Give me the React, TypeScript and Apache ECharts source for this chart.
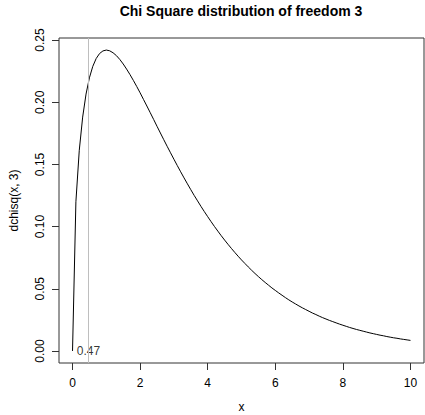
import React, { useEffect, useRef } from "react";
import * as echarts from "echarts";

const xValues = [
  0, 0.1, 0.2, 0.3, 0.4, 0.5, 0.6, 0.7, 0.8, 0.9, 1, 1.1, 1.2, 1.3, 1.4, 1.5, 1.6, 1.7, 1.8, 1.9,
  2, 2.1, 2.2, 2.3, 2.4, 2.5, 2.6, 2.7, 2.8, 2.9, 3, 3.1, 3.2, 3.3, 3.4, 3.5, 3.6, 3.7, 3.8, 3.9,
  4, 4.1, 4.2, 4.3, 4.4, 4.5, 4.6, 4.7, 4.8, 4.9, 5, 5.1, 5.2, 5.3, 5.4, 5.5, 5.6, 5.7, 5.8, 5.9,
  6, 6.1, 6.2, 6.3, 6.4, 6.5, 6.6, 6.7, 6.8, 6.9, 7, 7.1, 7.2, 7.3, 7.4, 7.5, 7.6, 7.7, 7.8, 7.9,
  8, 8.1, 8.2, 8.3, 8.4, 8.5, 8.6, 8.7, 8.8, 8.9, 9, 9.1, 9.2, 9.3, 9.4, 9.5, 9.6, 9.7, 9.8, 9.9, 10,
];

const densityValues = [
  0, 0.12, 0.1614, 0.1881, 0.2066, 0.2197, 0.2289, 0.2352, 0.2392, 0.2413,
  0.242, 0.2414, 0.2398, 0.2375, 0.2344, 0.2308, 0.2267, 0.2223, 0.2176, 0.2127,
  0.2076, 0.2023, 0.197, 0.1916, 0.1862, 0.1807, 0.1753, 0.1699, 0.1646, 0.1594,
  0.1542, 0.1491, 0.1441, 0.1392, 0.1344, 0.1297, 0.1251, 0.1207, 0.1163, 0.1121,
  0.108, 0.104, 0.1001, 0.0964, 0.0927, 0.0892, 0.0858, 0.0825, 0.0793, 0.0762,
  0.0732, 0.0704, 0.0676, 0.0649, 0.0623, 0.0598, 0.0574, 0.0551, 0.0529, 0.0507,
  0.0487, 0.0467, 0.0448, 0.0429, 0.0411, 0.0394, 0.0378, 0.0362, 0.0347, 0.0333,
  0.0319, 0.0305, 0.0293, 0.028, 0.0268, 0.0257, 0.0246, 0.0236, 0.0226, 0.0216,
  0.0207, 0.0198, 0.0189, 0.0181, 0.0173, 0.0166, 0.0159, 0.0152, 0.0145, 0.0139,
  0.0133, 0.0127, 0.0122, 0.0116, 0.0111, 0.0106, 0.0102, 0.0097, 0.0093, 0.0089, 0.0085,
];

const xTicks = [0, 2, 4, 6, 8, 10];
const yTicks = [0, 0.05, 0.1, 0.15, 0.2, 0.25];
const markX = 0.47;
const markLabel = "0.47";

const FONT = "'Liberation Sans', Arial, Helvetica, sans-serif";

export default function App() {
  const ref = useRef<HTMLDivElement>(null);

  useEffect(() => {
    if (!ref.current) return;
    const chart = echarts.init(ref.current, null, { renderer: "svg" });
    const curve = xValues.map((x, i) => [x, densityValues[i]]);
    chart.setOption({
      animation: false,
      backgroundColor: "#ffffff",
      textStyle: { fontFamily: FONT },
      title: {
        text: "Chi Square distribution of freedom 3",
        left: 241,
        top: 4,
        padding: 0,
        textAlign: "center",
        textStyle: { fontFamily: FONT, fontSize: 14, fontWeight: "bold", color: "#000" },
      },
      grid: {
        left: 59,
        right: 1,
        top: 38,
        bottom: 52,
        outerBoundsMode: "none",
        containLabel: false,
        show: true,
        borderColor: "#333",
        borderWidth: 1,
        backgroundColor: "transparent",
      },
      xAxis: {
        type: "value",
        min: -0.4,
        max: 10.4,
        name: "x",
        nameLocation: "middle",
        nameGap: 38,
        nameTextStyle: { fontFamily: FONT, fontSize: 12, color: "#000" },
        axisLine: { show: false, onZero: false },
        splitLine: { show: false },
        axisTick: {
          show: true,
          inside: false,
          length: 7,
          customValues: xTicks,
          lineStyle: { color: "#333", width: 1 },
        },
        axisLabel: {
          customValues: xTicks,
          margin: 14,
          fontFamily: FONT,
          fontSize: 12,
          color: "#000",
        },
      },
      yAxis: {
        type: "value",
        min: -0.00968,
        max: 0.2517,
        name: "dchisq(x, 3)",
        nameLocation: "middle",
        nameGap: 39,
        nameRotate: 90,
        nameTextStyle: { fontFamily: FONT, fontSize: 12, color: "#000" },
        axisLine: { show: false, onZero: false },
        splitLine: { show: false },
        axisTick: {
          show: true,
          inside: false,
          length: 7,
          customValues: yTicks,
          lineStyle: { color: "#333", width: 1 },
        },
        axisLabel: {
          customValues: yTicks,
          rotate: 90,
          margin: 13,
          fontFamily: FONT,
          fontSize: 12,
          color: "#000",
          formatter: (v: number) => v.toFixed(2),
        },
      },
      series: [
        {
          type: "line",
          data: curve,
          showSymbol: false,
          symbol: "none",
          lineStyle: { color: "#000", width: 1 },
          markLine: {
            silent: true,
            symbol: "none",
            label: { show: false },
            lineStyle: { color: "#bebebe", width: 1, type: "solid" },
            data: [{ xAxis: markX }],
          },
        },
        {
          type: "scatter",
          data: [[markX, 0]],
          symbolSize: 0,
          label: {
            show: true,
            position: "inside",
            formatter: markLabel,
            fontFamily: FONT,
            fontSize: 12,
            color: "#000",
          },
        },
      ],
    });
    return () => chart.dispose();
  }, []);

  return (
    <div
      ref={ref}
      style={{ position: "fixed", left: 0, top: 0, width: 425, height: 415 }}
    />
  );
}
